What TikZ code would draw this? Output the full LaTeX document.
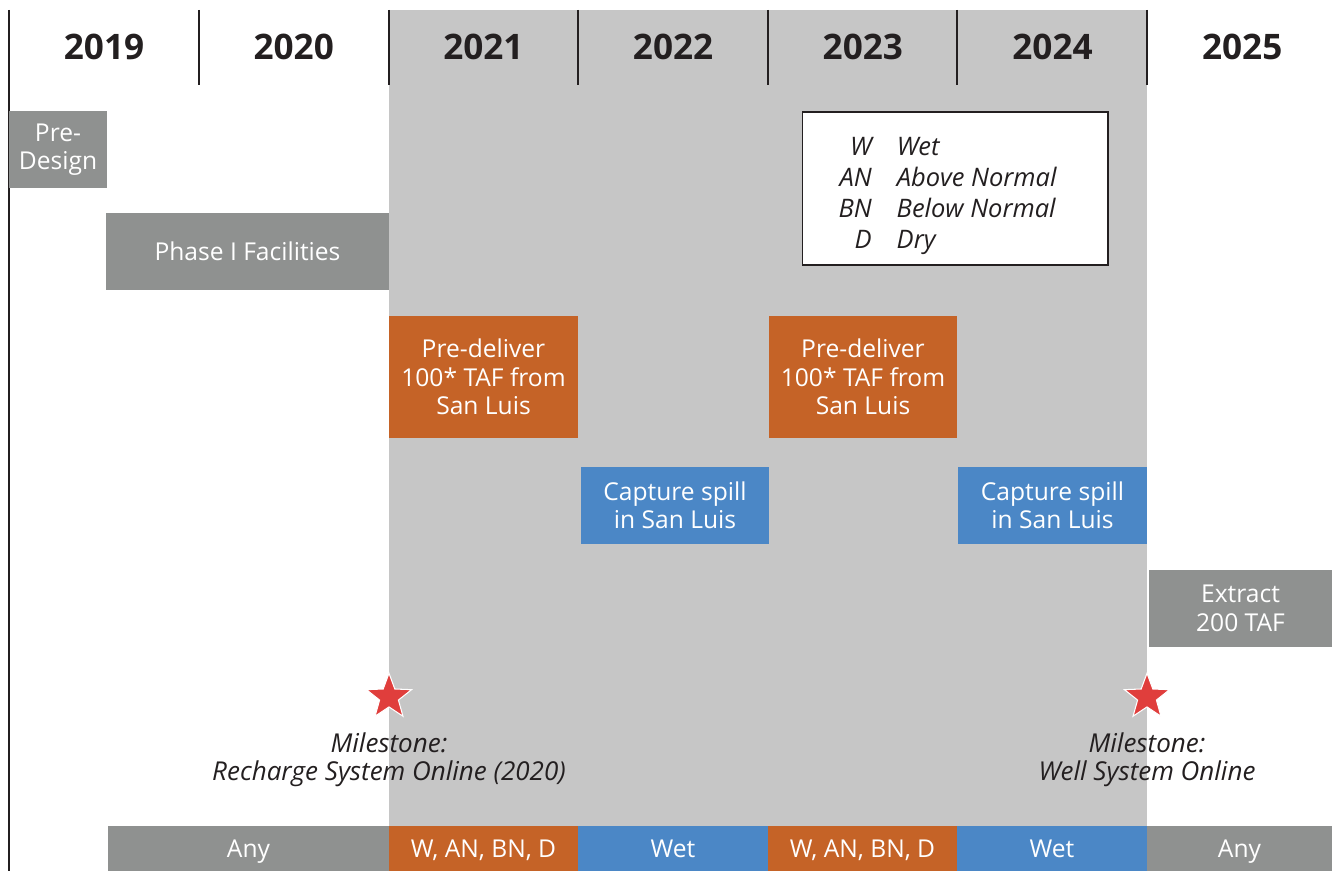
\documentclass[tikz,border=0pt]{standalone}
\usepackage{fontspec}
\setmainfont{Open Sans}
\usepackage{xcolor}
\usepackage{tikz}
\usetikzlibrary{shapes.geometric,positioning}
\definecolor{boxgrey}{HTML}{8F9190}
\definecolor{shadegrey}{HTML}{C6C6C6}
\definecolor{wetblue}{HTML}{4B87C6}
\definecolor{anyorange}{HTML}{C56327}
\definecolor{starred}{HTML}{E03E3C}
\definecolor{inkdark}{HTML}{231F20}

\begin{document}
\begin{tikzpicture}[x=0.02cm, y=-0.02cm,
        bar/.style={inner sep=0pt, text=white, align=center,
            font=\fontsize{14}{16.2}\selectfont},
        typebar/.style={bar, minimum height=0.9cm, text height=2.3ex, text depth=0.35ex},
        yearlbl/.style={font=\fontsize{20}{22}\selectfont\bfseries, text=inkdark},
        mstar/.style={star, star points=5, star point ratio=2.4, fill=starred,
            draw=white, line width=0.6pt, minimum size=0.95cm, inner sep=0pt},
        mtext/.style={font=\fontsize{14.8}{15.5}\selectfont\itshape, text=inkdark, align=center}]
            \useasboundingbox (0,0) rectangle (1332,871);

            % Shaded years
            \fill[shadegrey] (389,10) rectangle (1147,826);

            % Year header
            \draw[inkdark, line width=0.7pt] (9,10) -- (9,871);
            \foreach \sx in {199,389,578,768,957,1147}
                \draw[inkdark, line width=0.7pt] (\sx,10) -- (\sx,85);
            \foreach \yr [count=\i from 0] in {2019,2020,2021,2022,2023,2024,2025}
                \node[yearlbl] (y\yr) at ({104+189.7*\i},47) {\yr};

            % Grey phases
            \node[bar, fill=boxgrey, minimum width=1.96cm, minimum height=1.54cm] (predesign) at (58,149.5) {Pre-\\Design};
            \node[bar, fill=boxgrey, minimum width=5.66cm, minimum height=1.54cm] (phaseone) at (247.5,251.5) {Phase I Facilities};

            % Pre-delivery and capture
            \node[bar, fill=anyorange, minimum width=3.78cm, minimum height=2.44cm] (deliverA) at (483.5,377) {Pre-deliver\\100* TAF from\\San Luis};
            \node[bar, fill=anyorange, minimum width=3.76cm, minimum height=2.44cm] (deliverB) at (863,377) {Pre-deliver\\100* TAF from\\San Luis};
            \node[bar, fill=wetblue, minimum width=3.76cm, minimum height=1.54cm] (spillA) at (675,505.5) {Capture spill\\in San Luis};
            \node[bar, fill=wetblue, minimum width=3.78cm, minimum height=1.54cm] (spillB) at (1052.5,505.5) {Capture spill\\in San Luis};
            \node[bar, fill=boxgrey, minimum width=3.66cm, minimum height=1.54cm] (extract) at (1240.5,608.5) {Extract\\200 TAF};

            % Legend
            \node[draw=inkdark, fill=white, line width=0.6pt, minimum width=6.12cm, minimum height=3.06cm] (legend) at (955,188.5) {};
            \node[font=\fontsize{14.5}{17.6}\selectfont\itshape, text=inkdark, inner sep=0pt] (legendtext) at (947.5,196) {%
                \begin{tabular}{@{}r@{\hspace{0.5cm}}l@{}}
                W & Wet\\
                AN & Above Normal\\
                BN & Below Normal\\
                D & Dry
                \end{tabular}};

            % Milestones
            \node[mstar] (starA) at (389,697) {};
            \node[mstar] (starB) at (1147,697) {};
            \node[mtext, below=0.39cm of starA] (mileA) {Milestone:\\Recharge System Online (2020)};
            \node[mtext, below=0.39cm of starB] (mileB) {Milestone:\\Well System Online};

            % Water year types
            \node[typebar, fill=boxgrey, minimum width=5.62cm] (anyA) at (248.5,848.5) {Any};
            \node[typebar, fill=anyorange, minimum width=3.78cm] (typesA) at (483.5,848.5) {W, AN, BN, D};
            \node[typebar, fill=wetblue, minimum width=3.8cm] (wetA) at (673,848.5) {Wet};
            \node[typebar, fill=anyorange, minimum width=3.78cm] (typesB) at (862.5,848.5) {W, AN, BN, D};
            \node[typebar, fill=wetblue, minimum width=3.8cm] (wetB) at (1052,848.5) {Wet};
            \node[typebar, fill=boxgrey, minimum width=3.7cm] (anyB) at (1239.5,848.5) {Any};
        \end{tikzpicture}
\end{document}
